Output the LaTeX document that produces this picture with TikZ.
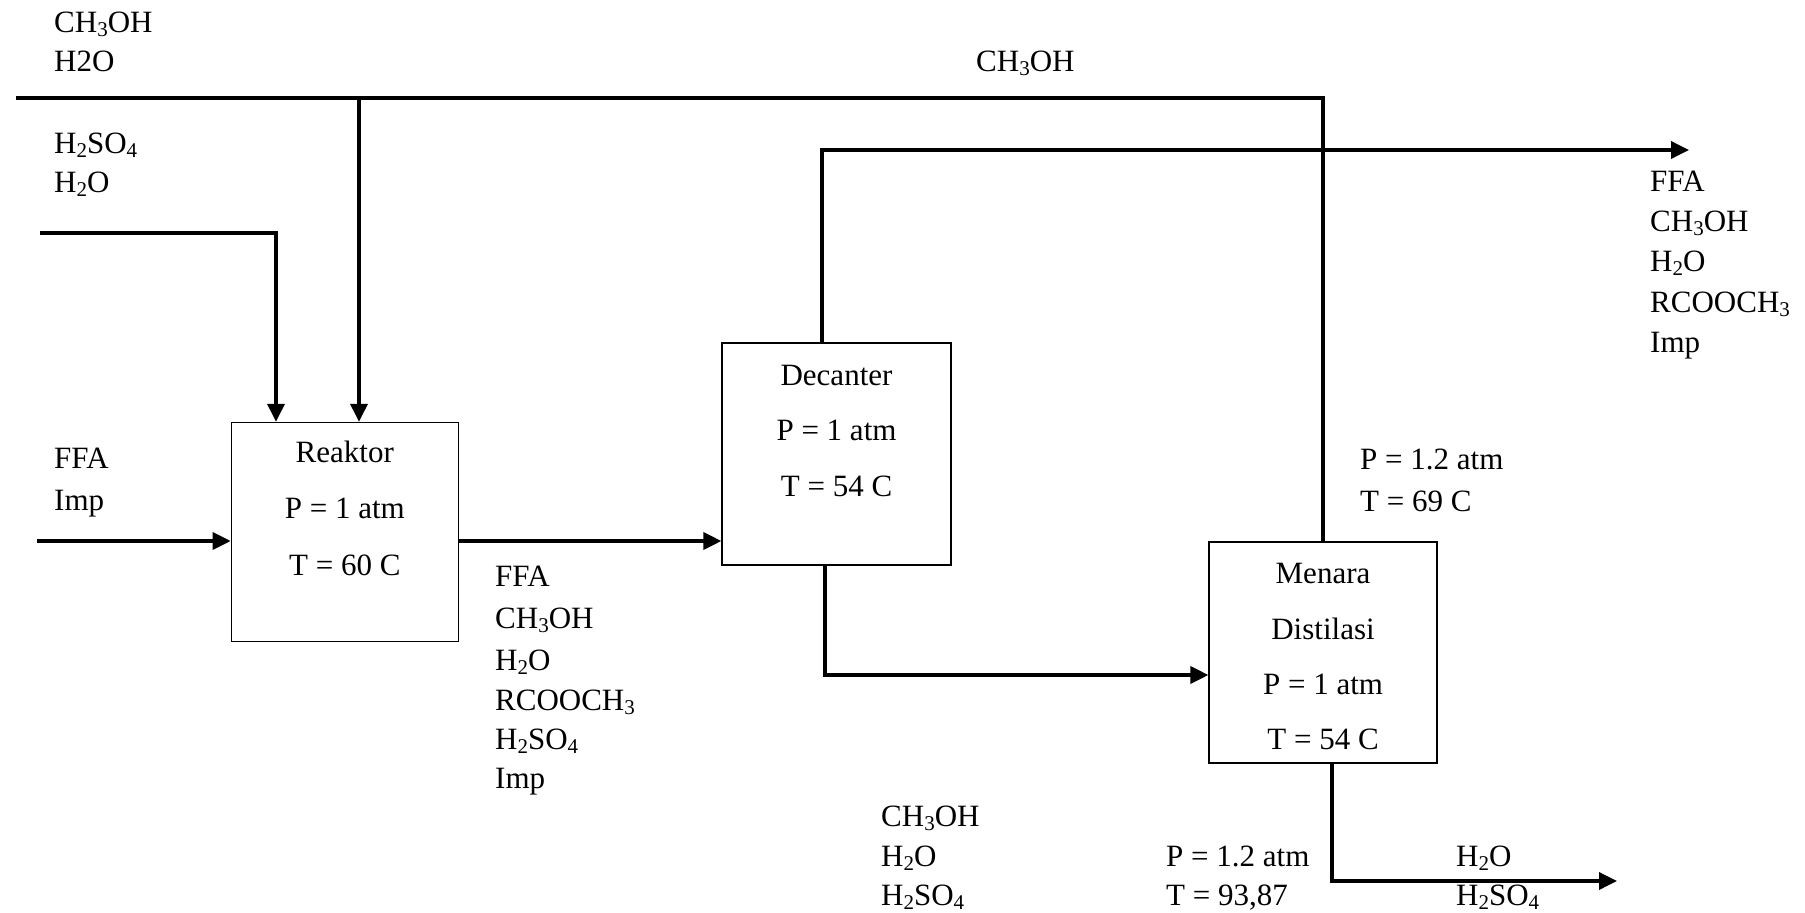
\documentclass[tikz,border=0pt]{standalone}
\usepackage{fontspec}
\setmainfont{Liberation Serif}
\usetikzlibrary{arrows.meta,calc}
\newcommand\fs{\fontsize{31}{38}\selectfont}
\newcommand\sub[1]{\raisebox{-0.13em}{\fontsize{21}{21}\selectfont #1}}
\begin{document}
\begin{tikzpicture}[x=1pt,y=-1pt,
  txt/.style={font=\fs, inner sep=0pt, anchor=base west},
  ctxt/.style={font=\fs, inner sep=0pt, anchor=base},
  pipe/.style={line width=3.5pt},
  flow/.style={line width=3.5pt, -{Triangle[length=18pt,width=17pt]}},
  unitbox/.style={draw, line width=1.2pt, inner sep=0pt}]
\useasboundingbox (0,0) rectangle (1805,913);

% unit boxes
\node[unitbox, minimum width=227pt, minimum height=219pt] (reaktor) at (344.8,531.9) {};
\node[unitbox, minimum width=229pt, minimum height=222pt] (decanter) at (836.5,454) {};
\node[unitbox, minimum width=228pt, minimum height=221pt] (menara) at (1323,652.5) {};

% box texts
\node[ctxt] (r1) at (344.8,462) {Reaktor};
\node[ctxt] (r2) at (344.8,518) {P = 1 atm};
\node[ctxt] (r3) at (344.8,575) {T = 60 C};
\node[ctxt] (d1) at (836.5,385) {Decanter};
\node[ctxt] (d2) at (836.5,440) {P = 1 atm};
\node[ctxt] (d3) at (836.5,496) {T = 54 C};
\node[ctxt] (m1) at (1323,583) {Menara};
\node[ctxt] (m2) at (1323,639) {Distilasi};
\node[ctxt] (m3) at (1323,694) {P = 1 atm};
\node[ctxt] (m4) at (1323,749) {T = 54 C};

% coordinates
\coordinate (topstart) at (16,98);
\coordinate (j1) at (359,98);
\coordinate (acidstart) at (40,233);
\coordinate (acidturn) at (276,233);
\coordinate (ffastart) at (37,541);
\coordinate (topdec) at (822,150);
\coordinate (prodend) at (1689,150);
\coordinate (decbot) at (825,675);
\coordinate (menbot) at (1332,881);
\coordinate (botend) at (1617,881);

% connectors
\draw[pipe] (topstart) -| (menara.north);
\draw[flow] (j1) -- (j1 |- reaktor.north);
\draw[flow] (acidstart) -- (acidturn) -- (acidturn |- reaktor.north);
\draw[flow] (ffastart) -- (ffastart -| reaktor.west);
\draw[flow] (ffastart -| reaktor.east) -- (ffastart -| decanter.west);
\draw[flow] (topdec |- decanter.north) -- (topdec) -- (prodend);
\draw[flow] (decbot |- decanter.south) -- (decbot) -- (decbot -| menara.west);
\draw[flow] (menbot |- menara.south) -- (menbot) -- (botend);

% labels
\node[txt] (a1) at (54,32) {CH\sub{3}OH};
\node[txt] (a2) at (54,71) {H2O};
\node[txt] (a3) at (976,71) {CH\sub{3}OH};
\node[txt] (b1) at (54,153) {H\sub{2}SO\sub{4}};
\node[txt] (b2) at (54,192) {H\sub{2}O};
\node[txt] (c1) at (54,468) {FFA};
\node[txt] (c2) at (54,510) {Imp};

\node[txt] (o1) at (495,586) {FFA};
\node[txt] (o2) at (495,628) {CH\sub{3}OH};
\node[txt] (o3) at (495,670) {H\sub{2}O};
\node[txt] (o4) at (495,710) {RCOOCH\sub{3}};
\node[txt] (o5) at (495,749) {H\sub{2}SO\sub{4}};
\node[txt] (o6) at (495,788) {Imp};

\node[txt] (p1) at (1650,191) {FFA};
\node[txt] (p2) at (1650,231) {CH\sub{3}OH};
\node[txt] (p3) at (1650,271) {H\sub{2}O};
\node[txt] (p4) at (1650,312) {RCOOCH\sub{3}};
\node[txt] (p5) at (1650,352) {Imp};

\node[txt] (q1) at (1360,469) {P = 1.2 atm};
\node[txt] (q2) at (1360,511) {T = 69 C};

\node[txt] (s1) at (881,826) {CH\sub{3}OH};
\node[txt] (s2) at (881,866) {H\sub{2}O};
\node[txt] (s3) at (881,905) {H\sub{2}SO\sub{4}};

\node[txt] (t1) at (1166,866) {P = 1.2 atm};
\node[txt] (t2) at (1166,905) {T = 93,87};

\node[txt] (u1) at (1456,866) {H\sub{2}O};
\node[txt] (u2) at (1456,905) {H\sub{2}SO\sub{4}};
\end{tikzpicture}
\end{document}
